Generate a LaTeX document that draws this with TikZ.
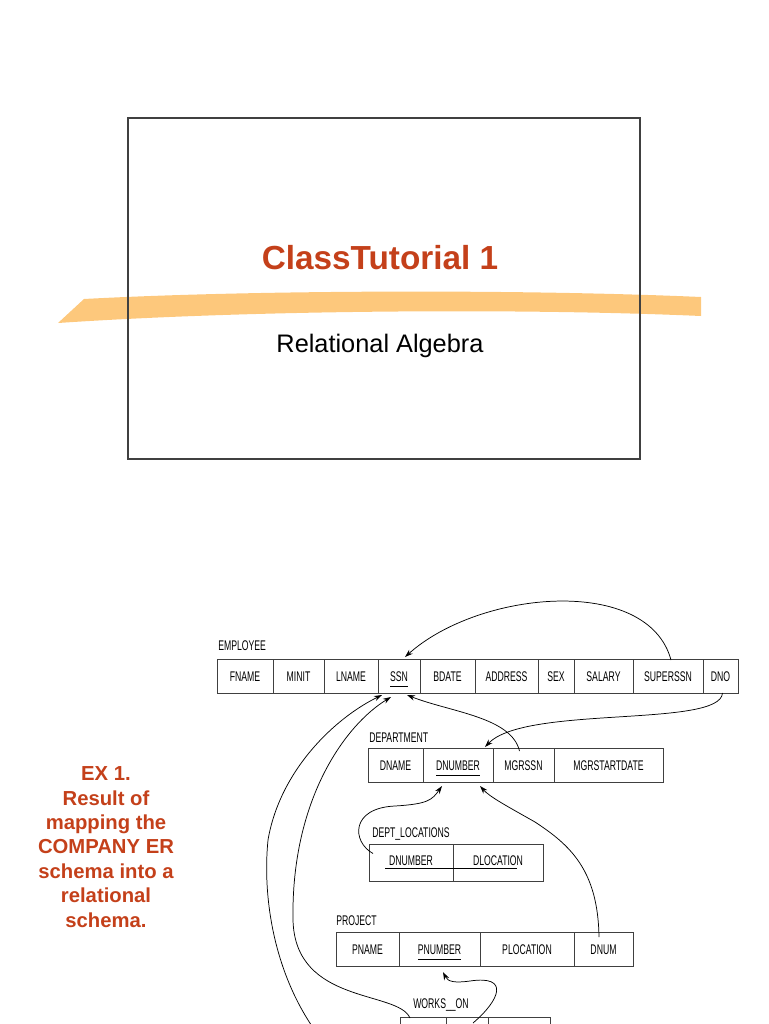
\documentclass[tikz,border=0pt]{standalone}
\usepackage{fontspec}
\setmainfont{Liberation Sans}
\newfontfamily\narrowfont[FakeStretch=0.62]{Liberation Sans}
\usepackage{xcolor}
\usepackage{tikz}
\usetikzlibrary{arrows.meta, positioning, calc}
\definecolor{titlered}{RGB}{196,64,26}
\definecolor{swoosh}{RGB}{253,200,124}
\newcommand\keyattr[1]{\setbox0\hbox{#1}\rlap{\rule[-4pt]{\wd0}{0.5pt}}\box0}

\begin{document}
\begin{tikzpicture}[
    x=0.75pt, y=-0.75pt,
    cell/.style={draw=black!75, line width=0.6pt, inner sep=0pt, outer sep=0pt,
                 minimum width=#1*0.75pt, minimum height=25.5pt,
                 text height=7.6pt, text depth=0pt, text=black,
                 font=\fontsize{10.5}{12}\narrowfont},
    relname/.style={anchor=base west, inner sep=0pt, text=black,
                    font=\fontsize{10.5}{12}\narrowfont},
    fk/.style={-{Stealth[length=6pt, width=4pt]}, line width=0.55pt}
  ]
  \useasboundingbox (0,0) rectangle (768,1024);

  % title slide
  \fill[swoosh] (58,323) -- (84,299) .. controls (250,290) and (520,289) .. (701,297)
    -- (701,316) .. controls (520,308) and (250,310) .. (58,323) -- cycle;
  \draw[black!75, line width=0.8pt] (128,118) rectangle (640,459);
  \node[font=\fontsize{25}{30}\selectfont\bfseries, text=titlered] (title) at (380,258) {ClassTutorial 1};
  \node[font=\fontsize{19}{23}\selectfont, anchor=base] (subtitle) at (380,352.5) {Relational Algebra};

  \node[font=\fontsize{15.2}{18.3}\selectfont\bfseries, text=titlered, align=center] (ex) at (106,847)
    {EX 1.\\Result of\\mapping the\\COMPANY ER\\schema into a\\relational\\schema.};

  % relations
  \node[relname] (emplabel) at (218,650) {EMPLOYEE};
  \node[cell=56, anchor=north west] (fname) at (217,659) {FNAME};
  \node[cell=51, right=0pt of fname] (minit) {MINIT};
  \node[cell=54, right=0pt of minit] (lname) {LNAME};
  \node[cell=42, right=0pt of lname] (ssn) {\keyattr{SSN}};
  \node[cell=55, right=0pt of ssn] (bdate) {BDATE};
  \node[cell=63, right=0pt of bdate] (address) {ADDRESS};
  \node[cell=36, right=0pt of address] (sex) {SEX};
  \node[cell=59, right=0pt of sex] (salary) {SALARY};
  \node[cell=70, right=0pt of salary] (superssn) {SUPERSSN};
  \node[cell=35, right=0pt of superssn] (dno) {DNO};

  \node[relname] (deptlabel) at (369,742) {DEPARTMENT};
  \node[cell=55, anchor=north west] (dname) at (368,748) {DNAME};
  \node[cell=70, right=0pt of dname] (dnumber) {\keyattr{DNUMBER}};
  \node[cell=61, right=0pt of dnumber] (mgrssn) {MGRSSN};
  \node[cell=109, right=0pt of mgrssn] (mgrstart) {MGRSTARTDATE};

  \node[relname] (loclabel) at (372,837) {DEPT\_LOCATIONS};
  \node[cell=84, minimum height=27.75pt, text depth=3.85pt, anchor=north west] (dlnumber) at (369,844) {DNUMBER};
  \node[cell=90, minimum height=27.75pt, text depth=3.85pt, right=0pt of dlnumber] (dlocation) {DLOCATION};
  \draw[black, line width=0.5pt] ($(dlnumber.west)+(16,5.5)$) -- ($(dlocation.east)+(-26,5.5)$);

  \node[relname] (projlabel) at (336,925) {PROJECT};
  \node[cell=63, anchor=north west] (pname) at (336,932) {PNAME};
  \node[cell=81, right=0pt of pname] (pnumber) {\keyattr{PNUMBER}};
  \node[cell=94, right=0pt of pnumber] (plocation) {PLOCATION};
  \node[cell=59, right=0pt of plocation] (dnum) {DNUM};

  \node[relname] (worklabel) at (413,1008) {WORKS\_\_ON};
  \node[cell=46, anchor=north west] (essn) at (400,1017) {};
  \node[cell=42, right=0pt of essn] (pno) {};
  \node[cell=62, right=0pt of pno] (hours) {};

  % foreign keys
  \coordinate (offpage) at (322,1040);
  \draw[fk] ($(superssn.north)+(3,1)$) .. controls +(-23,-85) and +(75,-67) .. ($(ssn.north)+(6,-2)$);
  \draw[fk] ($(dno.south)+(2,0)$) .. controls +(-2,35) and +(40,-42) .. ($(dnumber.north)+(27,-1)$);
  \draw[fk] ($(mgrssn.north)+(-4,3)$) .. controls +(-8,-34) and +(43,17) .. ($(ssn.south)+(8,2)$);
  \draw[fk] (offpage) .. controls (275,980) and (262,900) .. (268,840)
    .. controls (280,770) and (335,718) .. ($(ssn.south)+(-17,2)$);
  \draw[fk] ($(essn.north)+(-13,1)$) .. controls (398,990) and (295,1005) .. (293,920)
    .. controls (291,800) and (345,725) .. ($(ssn.south)+(-8,4)$);
  \draw[fk] ($(dlnumber.west)+(4,-9)$) .. controls (352,842) and (350,808) .. (395,806)
    .. controls (428,804) and (432,800) .. ($(dnumber.south)+(-16,4)$);
  \draw[fk] ($(dnum.north)+(-4.5,5)$) .. controls (598,870) and (570,845) .. (535,822)
    .. controls (505,805) and (490,797) .. ($(dnumber.south)+(22,4)$);
  \draw[fk] ($(pno.north)+(6,6)$) .. controls (500,1000) and (510,975) .. (470,981)
    .. controls (455,983) and (448,982) .. ($(pnumber.south)+(3.5,6)$);
\end{tikzpicture}
\end{document}
